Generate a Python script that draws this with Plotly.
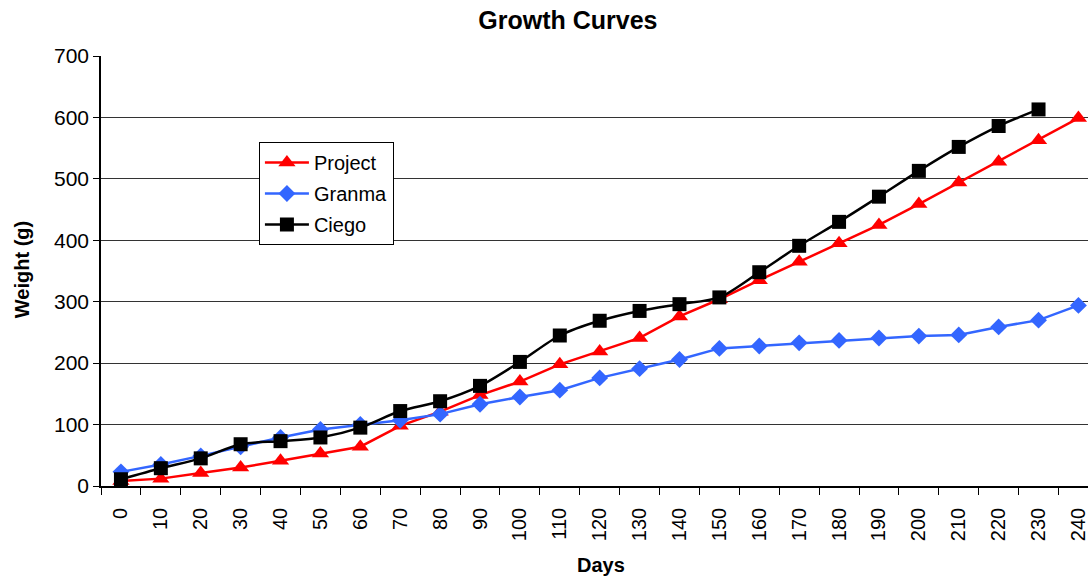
import plotly.graph_objects as go

# Sampling days (x categories)
days = [str(d) for d in range(0, 250, 10)]

# Mean weight (g) per line at each sampling day
project = [8, 12, 21, 30, 41, 53, 64, 98, 121, 148, 170, 198, 219, 241, 276, 304,
           335, 365, 395, 425, 459, 494, 528, 563, 599]
granma = [23, 35, 49, 64, 79, 92, 100, 107, 117, 133, 145, 156, 176, 191, 206, 224,
          228, 233, 237, 241, 244, 246, 259, 270, 294]
ciego = [11, 29, 45, 68, 73, 79, 95, 122, 138, 163, 202, 245, 269, 285, 296, 307,
         348, 391, 430, 471, 513, 552, 586, 613]

FONT = "Liberation Sans, Arial, sans-serif"

fig = go.Figure()

fig.add_trace(go.Scatter(
    x=days, y=project, name="Project", mode="lines+markers", legendgroup="p",
    line=dict(color="#FF0000", width=2.5),
    marker=dict(symbol="triangle-up", size=15, color="#FF0000"),
))
fig.add_trace(go.Scatter(
    x=days, y=granma, name="Granma", mode="lines+markers", legendgroup="g",
    line=dict(color="#3366FF", width=2.5),
    marker=dict(symbol="diamond", size=13, color="#3366FF"),
))
fig.add_trace(go.Scatter(
    x=days[:len(ciego)], y=ciego, name="Ciego", mode="lines+markers", legendgroup="c",
    line=dict(color="#000000", width=2.5, shape="spline", smoothing=0.8),
    marker=dict(symbol="square", size=14, color="#000000"),
))

fig.update_layout(
    width=1088, height=577,
    margin=dict(l=101, r=0, t=56, b=91),
    paper_bgcolor="white", plot_bgcolor="white",
    font=dict(family=FONT, color="black"),
    title=dict(text="<b>Growth Curves</b>", x=0.522, xanchor="center",
               y=0.965, yanchor="middle", font=dict(size=25, family=FONT)),
    showlegend=True,
    legend=dict(
        x=0.160, y=0.800, xanchor="left", yanchor="top",
        bgcolor="white", bordercolor="black", borderwidth=1,
        font=dict(size=20, family=FONT), itemwidth=44, tracegroupgap=2,
    ),
    xaxis=dict(
        type="category", tickson="boundaries", ticks="outside", ticklen=7,
        tickcolor="black", showline=True, linecolor="black", linewidth=1.5,
        showgrid=False, tickangle=-90, tickfont=dict(size=20),
        ticklabelstandoff=12, range=[-0.5, 24.24],
    ),
    yaxis=dict(
        range=[0, 700], dtick=100, ticks="outside", ticklen=6,
        tickcolor="black", showline=True, linecolor="black", linewidth=1.5,
        showgrid=True, gridcolor="#333333", gridwidth=1,
        tickfont=dict(size=21), zeroline=False,
    ),
    annotations=[
        dict(text="<b>Days</b>", xref="paper", yref="paper", x=0.5066, y=-0.1837,
             xanchor="center", yanchor="middle", showarrow=False,
             font=dict(size=20, family=FONT)),
        dict(text="<b>Weight (g)</b>", xref="paper", yref="paper", x=-0.080, y=0.502,
             xanchor="center", yanchor="middle", showarrow=False, textangle=-90,
             font=dict(size=20, family=FONT)),
    ],
)

fig.write_html("out.html")
